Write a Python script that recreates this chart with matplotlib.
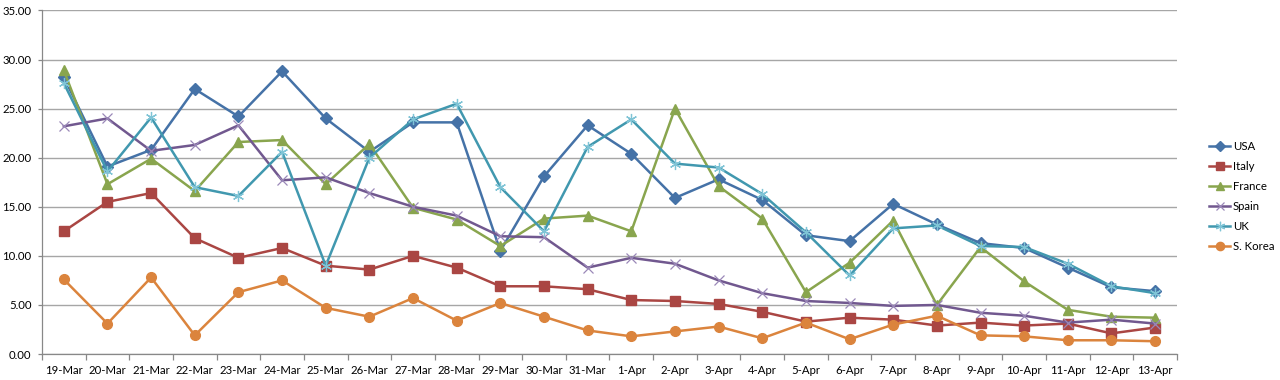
import numpy as np
import matplotlib
matplotlib.use("Agg")
import matplotlib.pyplot as plt
from matplotlib.ticker import FixedLocator

plt.rcParams["font.family"] = ["Lato", "DejaVu Sans"]

# Daily values
dates = ["19-Mar", "20-Mar", "21-Mar", "22-Mar", "23-Mar", "24-Mar", "25-Mar", "26-Mar",
         "27-Mar", "28-Mar", "29-Mar", "30-Mar", "31-Mar", "1-Apr", "2-Apr", "3-Apr",
         "4-Apr", "5-Apr", "6-Apr", "7-Apr", "8-Apr", "9-Apr", "10-Apr", "11-Apr",
         "12-Apr", "13-Apr"]

usa = [28.2, 19.1, 20.8, 27.0, 24.2, 28.8, 24.0, 20.6, 23.6, 23.6, 10.5, 18.1, 23.3,
       20.4, 15.9, 17.8, 15.7, 12.1, 11.5, 15.3, 13.2, 11.3, 10.8, 8.8, 6.8, 6.4]
italy = [12.5, 15.5, 16.4, 11.8, 9.8, 10.8, 9.0, 8.6, 10.0, 8.8, 6.9, 6.9, 6.6,
         5.5, 5.4, 5.1, 4.3, 3.3, 3.7, 3.5, 2.9, 3.2, 2.9, 3.1, 2.1, 2.7]
france = [28.9, 17.3, 19.9, 16.6, 21.6, 21.8, 17.3, 21.4, 14.9, 13.7, 11.0, 13.8, 14.1,
          12.5, 25.0, 17.1, 13.8, 6.3, 9.3, 13.6, 5.0, 10.9, 7.4, 4.5, 3.8, 3.7]
spain = [23.2, 24.0, 20.7, 21.3, 23.3, 17.7, 18.0, 16.4, 15.0, 14.1, 12.0, 11.9, 8.8,
         9.8, 9.2, 7.5, 6.2, 5.4, 5.2, 4.9, 5.0, 4.2, 3.9, 3.2, 3.5, 3.1]
uk = [27.6, 18.6, 24.1, 17.0, 16.1, 20.6, 9.0, 20.0, 23.9, 25.5, 17.0, 12.5, 21.1,
      23.9, 19.4, 19.0, 16.3, 12.4, 8.0, 12.8, 13.1, 11.0, 10.9, 9.2, 6.9, 6.2]
korea = [7.6, 3.1, 7.8, 1.9, 6.3, 7.5, 4.7, 3.8, 5.7, 3.4, 5.2, 3.8, 2.4,
         1.8, 2.3, 2.8, 1.6, 3.2, 1.5, 3.0, 3.9, 1.9, 1.8, 1.4, 1.4, 1.3]

series = [
    ("USA", usa, "#4572A7", "D", 6),
    ("Italy", italy, "#AA4643", "s", 7),
    ("France", france, "#89A54E", "^", 7),
    ("Spain", spain, "#71588F", "x", 7),
    ("UK", uk, "#4198AF", "*", 0),
    ("S. Korea", korea, "#DB843D", "o", 7),
]

FS = 8.2

fig = plt.figure(figsize=(12.8, 3.8), dpi=100)
ax = fig.add_axes([0.0328, 0.0684, 0.8867, 0.904])

x = np.arange(len(dates))
for name, vals, color, marker, ms in series:
    if name == "UK":
        # Excel-style asterisk: x plus a vertical bar
        ax.plot(x, vals, color=color, lw=1.8, zorder=3, label=name,
                marker=(6, 2, 0), markersize=8, markeredgewidth=0.9,
                markeredgecolor="#7fc4d6")
    elif marker == "x":
        ax.plot(x, vals, color=color, lw=1.8, zorder=3, label=name,
                marker="x", markersize=ms, markeredgewidth=0.9,
                markeredgecolor="#9a88b8")
    else:
        ax.plot(x, vals, color=color, lw=1.8, zorder=3, label=name,
                marker=marker, markersize=ms, markerfacecolor=color,
                markeredgecolor=color)

ax.set_xlim(-0.5, len(dates) - 0.5)
ax.set_ylim(0, 35)
ax.set_yticks(np.arange(0, 36, 5))
ax.set_yticklabels([f"{v:.2f}" for v in np.arange(0, 36, 5)], fontsize=FS)
ax.set_xticks(x)
ax.set_xticklabels(dates, fontsize=FS)
ax.xaxis.set_minor_locator(FixedLocator(np.arange(-0.5, len(dates), 1.0)))
ax.tick_params(axis="x", which="major", length=0, pad=8)
ax.tick_params(axis="x", which="minor", length=4, color="#888888", width=0.9)
ax.tick_params(axis="y", length=3, color="#888888", width=0.9, pad=4.5)

ax.grid(axis="y", color="#a6a6a6", lw=1.0, zorder=0)
ax.set_axisbelow(True)
for side in ["top", "right"]:
    ax.spines[side].set_visible(False)
for side in ["left", "bottom"]:
    ax.spines[side].set_color("#888888")
    ax.spines[side].set_linewidth(0.9)

ax.legend(loc="center left", bbox_to_anchor=(1.019, 0.458), frameon=False,
          fontsize=FS, handlelength=1.9, handletextpad=0.2, labelspacing=0.78,
          markerscale=0.85)

fig.savefig("out.png", dpi=100)
